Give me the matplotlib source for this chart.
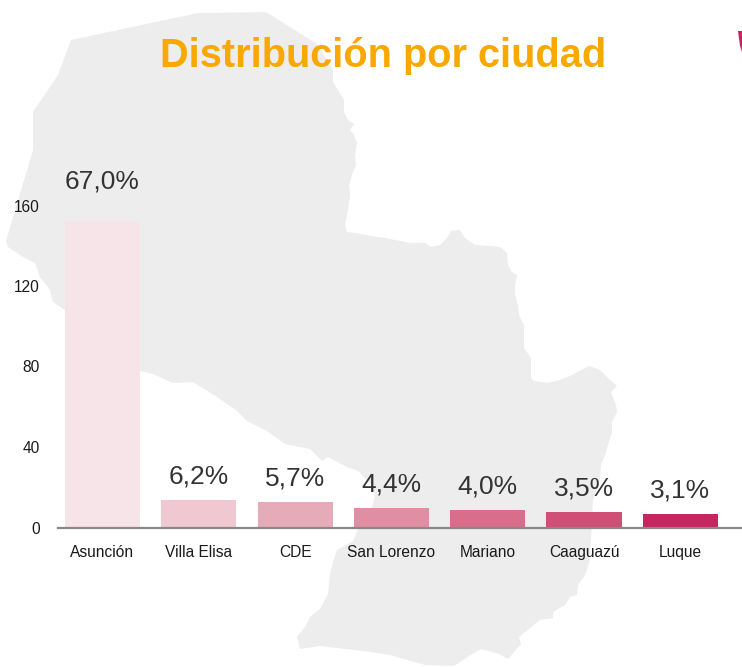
import matplotlib
matplotlib.use("Agg")
import matplotlib.pyplot as plt
from matplotlib.patches import Polygon

plt.rcParams['font.family'] = ['Liberation Sans', 'DejaVu Sans']

# chart values
cities = ['Asunción', 'Villa Elisa', 'CDE', 'San Lorenzo', 'Mariano', 'Caaguazú', 'Luque']
bar_heights = [152.5, 13.7, 12.7, 9.7, 8.7, 7.7, 6.7]
percent_labels = ['67,0%', '6,2%', '5,7%', '4,4%', '4,0%', '3,5%', '3,1%']
y_ticks = [0, 40, 80, 120, 160]
bar_colors = ['#F6E4E9', '#EFC8D2', '#E6ABB9', '#DF8EA3', '#D86E8C', '#CF4F76', '#C72560']

# background map outline, in picture pixels
map_outline = [
    (71, 40), (198, 13), (266, 12), (317, 44), (333, 70), (333, 82), (338, 90), (344, 100),
    (344, 112), (348, 120), (354, 124), (350, 130), (354, 135), (357, 143), (355, 155),
    (356, 165), (352, 175), (349, 185), (350, 195), (348, 210), (345, 225), (347, 232),
    (355, 233), (371, 236), (385, 238), (395, 240), (410, 243), (425, 243), (431, 247),
    (440, 245), (447, 238), (451, 231), (460, 230), (465, 238), (475, 245), (490, 246),
    (500, 247), (507, 253), (508, 265), (512, 272), (517, 275), (515, 285), (515, 295),
    (518, 305), (519, 315), (524, 325), (524, 348), (531, 358), (531, 378), (534, 381),
    (548, 383), (560, 380), (570, 376), (589, 366), (600, 370), (610, 380), (617, 386),
    (611, 392), (616, 405), (617, 412), (612, 422), (612, 432), (608, 445), (605, 455),
    (601, 465), (600, 480), (593, 500), (592, 520), (591, 540), (590, 560), (585, 575),
    (578, 585), (577, 595), (570, 597), (565, 605), (553, 612), (553, 618), (540, 620),
    (530, 628), (519, 637), (521, 644), (508, 659), (499, 654), (481, 649), (469, 656),
    (454, 666), (425, 665), (390, 655), (371, 652), (320, 646), (300, 649), (297, 637),
    (305, 627), (310, 617), (320, 609), (328, 594), (330, 574), (333, 562), (337, 550),
    (353, 541), (358, 529), (372, 507), (375, 495), (371, 484), (358, 471), (347, 467),
    (328, 457), (322, 461), (310, 449), (285, 444), (267, 431), (247, 421), (237, 411),
    (217, 397), (193, 382), (173, 383), (153, 374), (140, 371), (65, 310), (53, 302),
    (50, 290), (40, 277), (35, 263), (23, 257), (8, 247), (6, 241), (33, 150), (33, 112),
    (58, 75),
]
heart_corner = [(738, 31), (742, 31), (742, 52), (740, 46)]

W, H = 742, 667
fig = plt.figure(figsize=(W / 100, H / 100), dpi=100)

bg = fig.add_axes([0, 0, 1, 1], zorder=0)
bg.set_xlim(0, W)
bg.set_ylim(H, 0)
bg.axis('off')
bg.add_patch(Polygon(map_outline, closed=True, facecolor='#EDEDED', edgecolor='none'))
bg.add_patch(Polygon(heart_corner, closed=True, facecolor='#C72560', edgecolor='none'))

# axes span: x 58-742 px, baseline at 527.5 px, 160 at 205.5 px
ax = fig.add_axes([58 / W, (H - 527.5) / H, (W - 58) / W, 322 / H], zorder=1)
ax.patch.set_alpha(0)
bars = ax.bar(range(len(cities)), bar_heights, width=0.78, color=bar_colors)
ax.set_xlim(-0.462, 6.64)
ax.set_ylim(0, 160)

for spine in ['top', 'right', 'left']:
    ax.spines[spine].set_visible(False)
ax.spines['bottom'].set_color('#888888')
ax.spines['bottom'].set_linewidth(1.6)

ax.set_yticks(y_ticks)
ax.tick_params(axis='y', length=0, pad=13, labelsize=11.2, labelcolor='#1a1a1a')
ax.set_xticks(range(len(cities)))
ax.set_xticklabels(cities)
ax.tick_params(axis='x', length=0, pad=12.5, labelsize=11.2, labelcolor='#1a1a1a')

for i, (bar, label) in enumerate(zip(bars, percent_labels)):
    gap = 23 if i == 0 else 12  # first label sits higher in the original
    ax.annotate(label, (bar.get_x() + bar.get_width() / 2, bar.get_height()),
                xytext=(0, gap), textcoords='offset points',
                ha='center', va='baseline', fontsize=19, color='#333333')

fig.text(383.5 / W, 1 - 67 / H, 'Distribución por ciudad', ha='center', va='baseline',
         fontsize=28.6, fontweight='bold', color='#F9A800', zorder=5)

fig.savefig('out.png', dpi=100)
